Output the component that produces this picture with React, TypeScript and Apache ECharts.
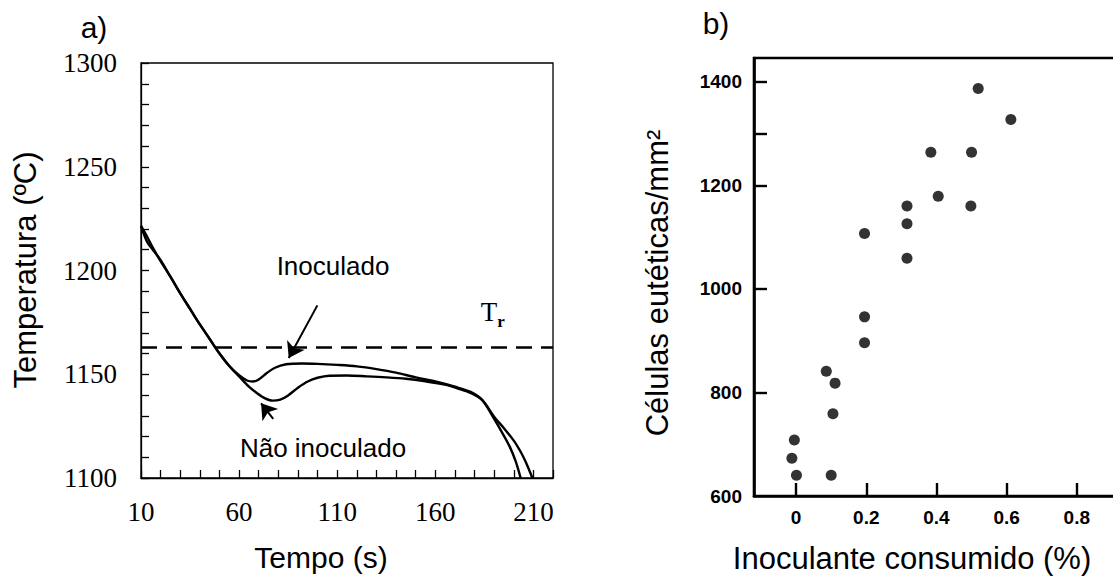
import React, { useEffect, useRef } from "react";
import * as echarts from "echarts";

// ---- Chart a) cooling curves ----
const inoculadoTime = [10, 13, 16, 20, 25, 30, 35, 40, 45, 50, 55, 60, 64, 67, 70, 74, 78, 84, 92, 100, 110, 120, 130, 140, 150, 160, 170, 178, 184, 190, 194, 198, 201, 203.5];
const inoculadoTemp = [1221.5, 1214, 1210, 1205, 1197, 1189, 1181.5, 1174, 1167, 1160, 1154, 1149.5, 1147, 1146.5, 1147.5, 1150.5, 1153, 1154.8, 1155.2, 1155, 1154.5, 1153.8, 1152.5, 1150.8, 1148.5, 1146.5, 1144, 1141.5, 1137.5, 1128.5, 1122, 1115, 1108, 1100];
const naoInoculadoTime = [10, 13, 16, 20, 25, 30, 35, 40, 45, 50, 55, 60, 65, 69, 73, 77, 81, 85, 90, 95, 100, 106, 115, 125, 135, 145, 155, 165, 172, 178, 184, 190, 195, 200, 203, 206, 209.5];
const naoInoculadoTemp = [1221.5, 1216.5, 1211, 1204.5, 1197, 1189, 1181.5, 1174, 1167, 1160, 1154, 1149, 1144, 1141, 1138.5, 1137.3, 1137.8, 1139.8, 1143.5, 1146.5, 1148.3, 1149.3, 1149.4, 1149, 1148.5, 1147.8, 1146.6, 1145, 1143, 1141, 1137.5, 1129.5, 1124, 1118, 1113.5, 1108, 1100];
const trTemperature = 1163;
const inoculadoArrow = [[99.9, 1183.2], [85.3, 1157.8]];
const naoArrow = [[77.4, 1128.5], [71.2, 1136.0]];

// ---- Chart b) eutectic cells vs inoculant ----
const inoculanteConsumido = [-0.005, -0.012, 0.001, 0.1, 0.086, 0.111, 0.105, 0.195, 0.195, 0.195, 0.316, 0.316, 0.316, 0.384, 0.405, 0.5, 0.498, 0.519, 0.612];
const celulasEuteticas = [708, 673, 640, 640, 841, 818, 759, 1107, 946, 896, 1160, 1126, 1059, 1264, 1179, 1264, 1160, 1387, 1327];
const bXTickValues = [0, 0.2, 0.4, 0.6, 0.8];
const bYLabelValues = [600, 800, 1000, 1200, 1400];
const bYTickValues = [800, 1000, 1200, 1300, 1400];

const SANS = "'Liberation Sans', Arial, sans-serif";
const SERIF = "'Liberation Serif', 'Times New Roman', serif";

export default function App() {
  const ref = useRef<HTMLDivElement>(null);
  useEffect(() => {
    if (!ref.current) return;
    const chart = echarts.init(ref.current, undefined, { renderer: "svg" });
    const inocData = inoculadoTime.map((t, i) => [t, inoculadoTemp[i]]);
    const naoData = naoInoculadoTime.map((t, i) => [t, naoInoculadoTemp[i]]);
    const scatterData = inoculanteConsumido.map((x, i) => [x, celulasEuteticas[i]]);

    const text = (style: any, x: number, y: number, rotation = 0) => ({
      type: "text",
      x,
      y,
      rotation,
      style: { fill: "#000", align: "center", verticalAlign: "middle", ...style },
    });

    chart.setOption({
      animation: false,
      backgroundColor: "#fff",
      grid: [
        { left: 141, top: 63, width: 412, height: 415, show: true, borderColor: "#000", borderWidth: 1.3, outerBoundsMode: "none", containLabel: false },
        { left: 754, top: 58, width: 393, height: 438, show: true, borderColor: "#000", borderWidth: 2.6, outerBoundsMode: "none", containLabel: false },
      ],
      xAxis: [
        {
          type: "value", gridIndex: 0, min: 10, max: 220, interval: 10,
          axisLine: { onZero: false, lineStyle: { color: "#000", width: 1.3 } },
          axisTick: { inside: true, length: 8, lineStyle: { color: "#000", width: 1.3 } },
          axisLabel: {
            margin: 20, color: "#000", fontFamily: SERIF, fontSize: 27,
            formatter: (v: number) => ((Math.round(v) - 10) % 50 === 0 ? String(Math.round(v)) : ""),
          },
          splitLine: { show: false },
        },
        {
          type: "value", gridIndex: 1, min: -0.12, max: 1.0,
          axisLine: { onZero: false, lineStyle: { color: "#000", width: 2.6 } },
          axisTick: { inside: true, length: 13, customValues: bXTickValues, lineStyle: { color: "#000", width: 2.4 } },
          axisLabel: {
            margin: 12, color: "#000", fontFamily: SANS, fontSize: 19, fontWeight: "bold",
            customValues: bXTickValues,
            formatter: (v: number) => (v === 0 ? "0" : v.toFixed(1)),
          },
          splitLine: { show: false },
        },
      ],
      yAxis: [
        {
          type: "value", gridIndex: 0, min: 1100, max: 1300, interval: 10,
          axisLine: { onZero: false, lineStyle: { color: "#000", width: 1.3 } },
          axisTick: { inside: true, length: 8, lineStyle: { color: "#000", width: 1.3 } },
          axisLabel: {
            margin: 24, color: "#000", fontFamily: SERIF, fontSize: 27,
            formatter: (v: number) => (Math.round(v) % 50 === 0 ? String(Math.round(v)) : ""),
          },
          splitLine: { show: false },
        },
        {
          type: "value", gridIndex: 1, min: 600, max: 1446,
          axisLine: { onZero: false, lineStyle: { color: "#000", width: 2.6 } },
          axisTick: { inside: true, length: 13, customValues: bYTickValues, lineStyle: { color: "#000", width: 2.4 } },
          axisLabel: {
            margin: 12, color: "#000", fontFamily: SANS, fontSize: 19, fontWeight: "bold",
            customValues: bYLabelValues,
            formatter: (v: number) => String(Math.round(v)),
          },
          splitLine: { show: false },
        },
      ],
      series: [
        {
          name: "Inoculado", type: "line", xAxisIndex: 0, yAxisIndex: 0,
          data: inocData, smooth: 0.3, showSymbol: false, symbol: "none",
          lineStyle: { color: "#000", width: 2.4 },
          markLine: {
            silent: true, symbol: ["none", "none"], label: { show: false },
            lineStyle: { color: "#000", width: 2.6, type: [16, 9] },
            data: [{ yAxis: trTemperature }],
          },
        },
        {
          name: "Não inoculado", type: "line", xAxisIndex: 0, yAxisIndex: 0,
          data: naoData, smooth: 0.3, showSymbol: false, symbol: "none",
          lineStyle: { color: "#000", width: 2.4 },
          markLine: {
            silent: true, symbol: ["none", "arrow"], symbolSize: 15, label: { show: false },
            lineStyle: { color: "#000", width: 2, type: "solid" },
            itemStyle: { color: "#000" },
            data: [
              [{ coord: inoculadoArrow[0] }, { coord: inoculadoArrow[1] }],
              [{ coord: naoArrow[0] }, { coord: naoArrow[1] }],
            ],
          },
        },
        {
          name: "Células", type: "scatter", xAxisIndex: 1, yAxisIndex: 1,
          data: scatterData, symbolSize: 11, itemStyle: { color: "#000" },
        },
      ],
      graphic: [
        text({ text: "a)", fontFamily: SANS, fontSize: 30 }, 94, 27),
        text({ text: "b)", fontFamily: SANS, fontSize: 30 }, 716, 23),
        text({ text: "Temperatura (ºC)", fontFamily: SANS, fontSize: 31 }, 25, 270, Math.PI / 2),
        text({ text: "Tempo (s)", fontFamily: SANS, fontSize: 30 }, 321, 557),
        text({ text: "Inoculado", fontFamily: SANS, fontSize: 26 }, 333, 266),
        text({ text: "Não inoculado", fontFamily: SANS, fontSize: 26 }, 323, 448),
        text({ text: "T", fontFamily: SERIF, fontSize: 27 }, 489, 312),
        text({ text: "r", fontFamily: SERIF, fontSize: 17, fontWeight: "bold" }, 501, 321),
        text({ text: "Células eutéticas/mm²", fontFamily: SANS, fontSize: 31 }, 657, 283, Math.PI / 2),
        text({ text: "Inoculante consumido (%)", fontFamily: SANS, fontSize: 31 }, 912, 558),
      ],
    });
    return () => chart.dispose();
  }, []);
  return <div ref={ref} style={{ position: "absolute", left: 0, top: 0, width: 1113, height: 580 }} />;
}
